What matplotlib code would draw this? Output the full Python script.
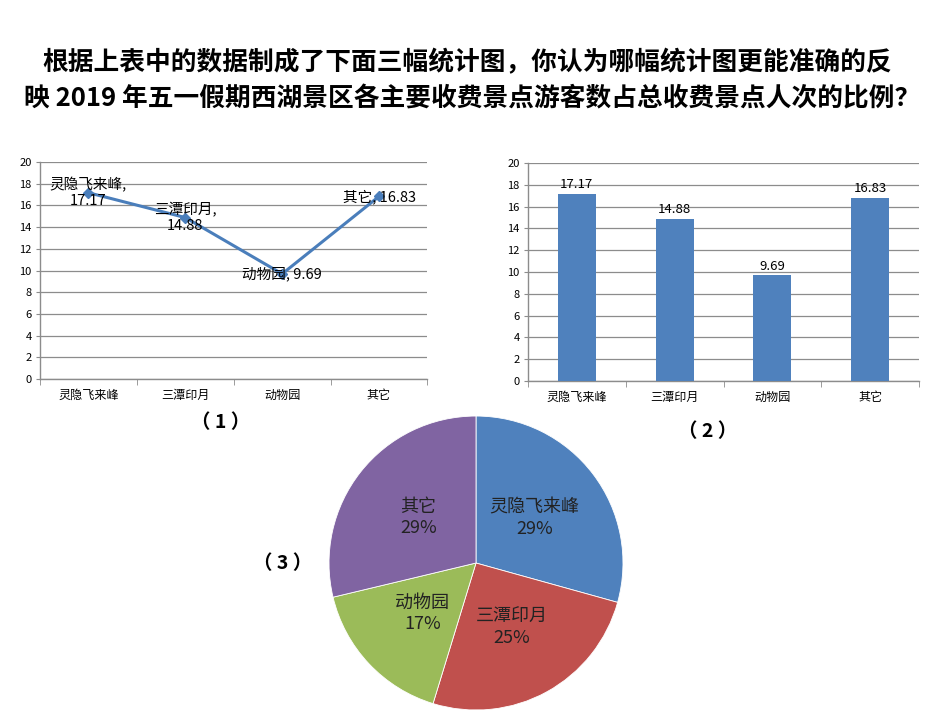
import math
import matplotlib
matplotlib.use("Agg")
import matplotlib.pyplot as plt

plt.rcParams['font.family'] = ['Noto Sans CJK SC', 'DejaVu Sans']

categories = ["灵隐飞来峰", "三潭印月", "动物园", "其它"]
values = [17.17, 14.88, 9.69, 16.83]
line_labels = ["灵隐飞来峰,\n17.17", "三潭印月,\n14.88", "动物园, 9.69", "其它, 16.83"]
yticks = [0, 2, 4, 6, 8, 10, 12, 14, 16, 18, 20]
pie_colors = ["#4F81BD", "#C0504D", "#9BBB59", "#8064A2"]
title_lines = ["根据上表中的数据制成了下面三幅统计图，你认为哪幅统计图更能准确的反",
               "映 2019 年五一假期西湖景区各主要收费景点游客数占总收费景点人次的比例？"]

fig = plt.figure(figsize=(9.5, 7.13), dpi=100)
fig.patch.set_facecolor("white")

fig.text(0.492, 0.9116, title_lines[0], ha="center", va="center", fontsize=18.5, fontweight="bold")
fig.text(0.497, 0.861, title_lines[1], ha="center", va="center", fontsize=18.5, fontweight="bold")

grid_c = "#8C8C8C"
axis_c = "#8C8C8C"

def style_axes(ax):
    ax.set_xlim(-0.5, 3.5)
    ax.set_ylim(0, 20)
    ax.set_yticks(yticks)
    ax.set_xticks(range(len(categories)))
    ax.set_xticklabels(categories, fontsize=8.7)
    ax.set_xticks([-0.5, 0.5, 1.5, 2.5, 3.5], minor=True)
    ax.tick_params(axis="x", which="major", length=0, pad=7)
    ax.tick_params(axis="x", which="minor", length=4, color=axis_c, direction="out")
    ax.tick_params(axis="y", length=3, color=axis_c, labelsize=8, pad=3)
    ax.yaxis.grid(True, color=grid_c, linewidth=0.9)
    ax.set_axisbelow(True)
    for s in ["top", "right"]:
        ax.spines[s].set_visible(False)
    for s in ["left", "bottom"]:
        ax.spines[s].set_color(axis_c)
        ax.spines[s].set_linewidth(1.0)

# Chart 1: line
ax1 = fig.add_axes([0.042, 0.4684, 0.408, 0.3044])
style_axes(ax1)
x = list(range(len(categories)))
ax1.plot(x, values, color="#4A7EBB", linewidth=2.2, marker="D", markersize=5.5, zorder=3)
for xi, v, lab in zip(x, values, line_labels):
    ax1.annotate(lab, (xi, v), ha="center", va="center", fontsize=10.5, zorder=4,
                 linespacing=1.15)
fig.text(0.232, 0.408, "（ 1 ）", ha="center", va="center", fontsize=14, fontweight="bold")

# Chart 2: bar
ax2 = fig.add_axes([0.5558, 0.4656, 0.4116, 0.3058])
style_axes(ax2)
bars = ax2.bar(x, values, width=0.39, color="#4F81BD", zorder=3)
for b, v in zip(bars, values):
    ax2.annotate(f"{v:.2f}", (b.get_x() + b.get_width() / 2, v), xytext=(0, 2),
                 textcoords="offset points", ha="center", va="bottom", fontsize=9.5)
fig.text(0.745, 0.395, "（ 2 ）", ha="center", va="center", fontsize=14, fontweight="bold")

# Chart 3: pie
ax3 = fig.add_axes([0.3463, 0.0042, 0.3095, 0.4123])
total = sum(values)
wedges, texts = ax3.pie(values, colors=pie_colors, startangle=90, counterclock=False,
                        wedgeprops=dict(edgecolor="white", linewidth=0.6))
for w, v, name in zip(wedges, values, categories):
    ang = (w.theta1 + w.theta2) / 2
    r = 0.5
    xx = r * math.cos(math.radians(ang))
    yy = r * math.sin(math.radians(ang))
    pct = round(v / total * 100)
    ax3.text(xx, yy, f"{name}\n{pct}%", ha="center", va="center", fontsize=13,
             color="#222222", linespacing=1.25)
ax3.set_aspect("equal")
ax3.set_xlim(-1.0, 1.0)
ax3.set_ylim(-1.0, 1.0)
fig.text(0.298, 0.21, "（ 3 ）", ha="center", va="center", fontsize=14, fontweight="bold")

fig.savefig("out.png", dpi=100, facecolor="white")
